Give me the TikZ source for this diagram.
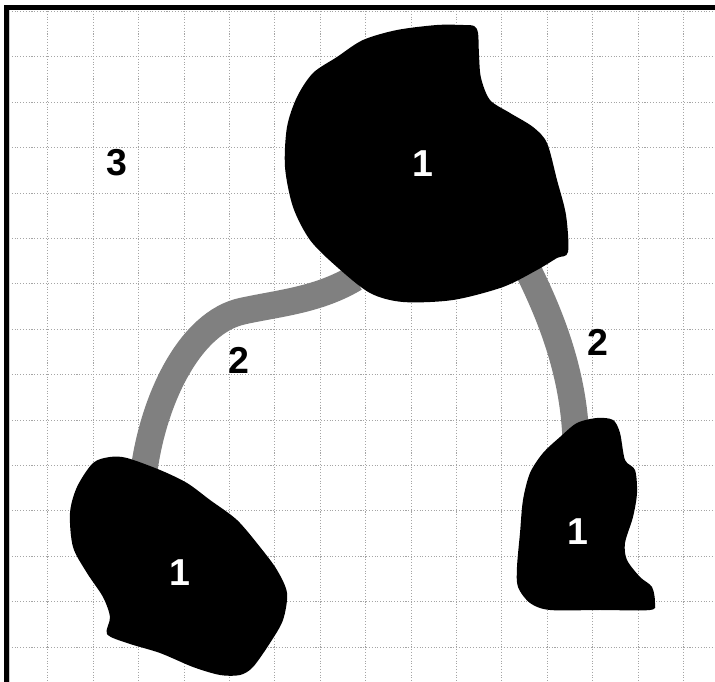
\documentclass[tikz,border=0pt]{standalone}
\usepackage{fontspec}
\setmainfont{Liberation Sans}
\usetikzlibrary{positioning,calc}
\definecolor{gridcolor}{RGB}{165,165,165}
\definecolor{tubecolor}{RGB}{128,128,128}

\begin{document}
\begin{tikzpicture}[
    x=0.03cm, y=-0.03cm,
    gridline/.style={draw=gridcolor, line width=0.9pt, dash pattern=on 0.9pt off 1.5pt},
    border/.style={draw=black, line width=3.6pt},
    blob/.style={fill=black, draw=none},
    tube/.style={draw=tubecolor, line width=23pt},
    inlabel/.style={text=white, font=\fontsize{32}{32}\selectfont\bfseries, inner sep=0pt},
    outlabel/.style={text=black, font=\fontsize{32}{32}\selectfont\bfseries, inner sep=0pt}
]

% Canvas
\useasboundingbox (0,0) rectangle (715,682);
\fill[white] (0,0) rectangle (715,682);

% Grid
\foreach \i in {1,...,15} {
    \draw[gridline] ({2.5+45.4*\i},11) -- ({2.5+45.4*\i},682);
}
\foreach \j in {0,...,14} {
    \draw[gridline] (9,{11.5+45.4*\j}) -- (715,{11.5+45.4*\j});
}
\draw[gridcolor!60, line width=0.8pt] (9.8,9) -- (9.8,682);

% Frame
\draw[border] (6.5,682) -- (6.5,7.5) -- (715,7.5);

% Tube end points
\coordinate (left_a) at (143,478);
\coordinate (left_b) at (355,278);
\coordinate (right_a) at (526,266);
\coordinate (right_b) at (576,442);

% Tubes
\draw[tube] (left_a) .. controls (152,400) and (190,322) .. (243,311)
    .. controls (280,303) and (318,300) .. (left_b);
\draw[tube] (right_a) .. controls (548,310) and (574,370) .. (right_b);

% Top blob
\fill[blob] plot[smooth cycle, tension=0.5] coordinates {
    (474,26) (478,33) (479,55) (481,78) (490,100) (510,113) (533,127)
    (547,143) (557,180) (566,215) (568,252) (557,258) (537,270) (503,287)
    (453,300) (403,302) (370,293) (337,267) (310,240) (293,207) (285,167)
    (287,127) (297,97) (313,73) (337,57) (363,40) (397,30) (437,25) (463,25)};

% Left blob
\fill[blob] plot[smooth cycle, tension=0.5] coordinates {
    (93,463) (110,457) (127,458) (160,470) (187,483) (210,500) (237,520)
    (260,547) (277,570) (287,593) (283,620) (270,643) (253,667) (240,675)
    (220,675) (193,667) (160,653) (127,643) (107,634) (110,617) (103,597)
    (87,573) (73,547) (70,513) (77,487)};

% Right blob
\fill[blob] plot[smooth cycle, tension=0.5] coordinates {
    (597,418) (613,420) (620,433) (625,460) (635,470) (637,493) (633,517)
    (625,543) (627,560) (640,577) (652,587) (655,603) (650,610) (600,610)
    (550,610) (530,603) (518,587) (517,567) (520,533) (523,500) (530,473)
    (543,453) (560,437) (577,423)};

% Labels
\node[inlabel] (top_one) at (423,164) {1};
\node[inlabel] (left_one) at (180,573) {1};
\node[inlabel] (right_one) at (578,532) {1};
\node[outlabel] (left_two) at (239,360) {2};
\node[outlabel] (right_two) at (598,342) {2};
\node[outlabel] (free_three) at (117,163) {3};

\end{tikzpicture}
\end{document}
